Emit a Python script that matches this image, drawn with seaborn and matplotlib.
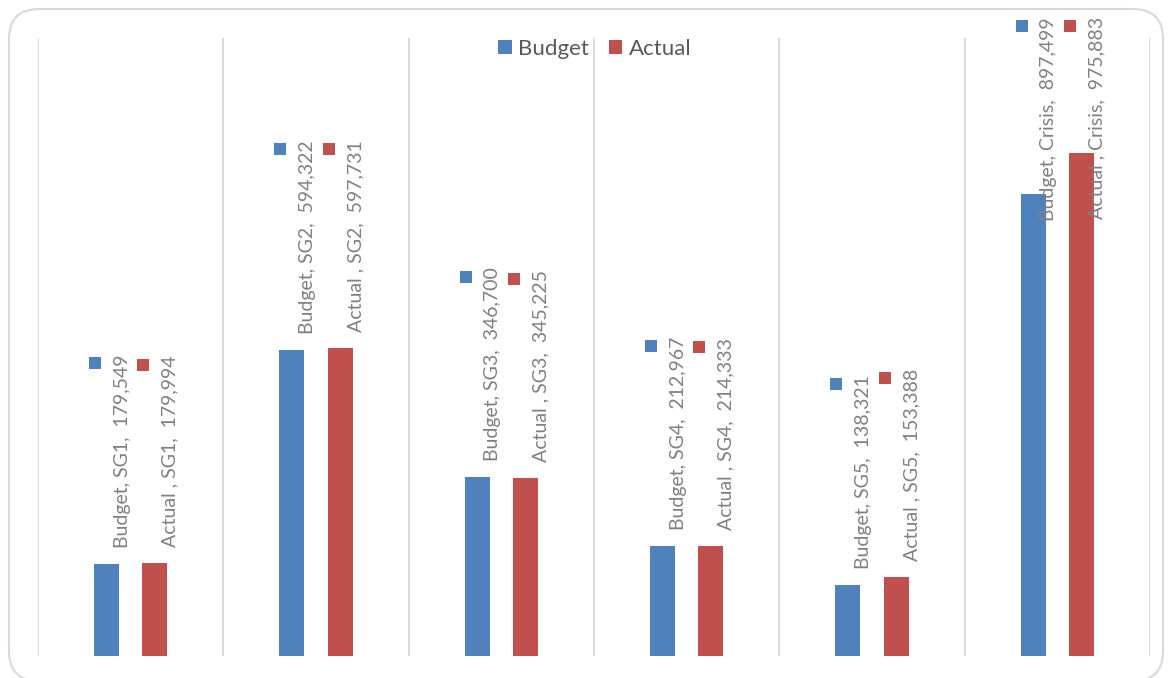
import matplotlib
matplotlib.use("Agg")
import matplotlib.pyplot as plt
import matplotlib.transforms as mtransforms
import seaborn as sns
import pandas as pd
from matplotlib.patches import Patch, Rectangle, FancyBboxPatch

categories = ["SG1", "SG2", "SG3", "SG4", "SG5", "Crisis"]
budget = [179549, 594322, 346700, 212967, 138321, 897499]
actual = [179994, 597731, 345225, 214333, 153388, 975883]
series_names = ["Budget", "Actual"]
label_prefix = ["Budget", "Actual "]
colors = ["#4F81BD", "#C0504D"]

W, H = 1169, 678
DPI = 100
sns.set_theme(style="white")
plt.rcParams['font.family'] = ['Lato', 'DejaVu Sans']

fig = plt.figure(figsize=(W / DPI, H / DPI), dpi=DPI)
fig.patch.set_facecolor("white")
ax = fig.add_axes([38 / W, 22 / H, 1112 / W, 618 / H])

df = pd.DataFrame({
    "category": categories * 2,
    "series": [series_names[0]] * len(budget) + [series_names[1]] * len(actual),
    "value": budget + actual,
})
sns.barplot(data=df, x="category", y="value", hue="series", hue_order=series_names,
            palette=colors, width=0.52, gap=0.48, legend=False, ax=ax,
            saturation=1, linewidth=0, errorbar=None)
ax.set_xlim(-0.5, len(categories) - 0.5)
ax.set_ylim(0, 1200000)
for k in range(len(categories) + 1):
    ax.axvline(k - 0.5, color="#d9d9d9", lw=1.4, zorder=0)
ax.set_axis_off()

PX = 72 / DPI
LABEL_FS = 14
anns = []
for si, (cont, vals) in enumerate(zip(ax.containers, [budget, actual])):
    for i, (bar, v) in enumerate(zip(cont, vals)):
        xc = bar.get_x() + bar.get_width() / 2
        txt = f"{label_prefix[si]}, {categories[i]},  {v:,}"
        a = ax.annotate(txt, xy=(xc, bar.get_height()), xytext=(15.5 * PX, 16 * PX),
                        textcoords="offset points", rotation=90, ha="center", va="bottom",
                        fontsize=LABEL_FS, color="#808080", annotation_clip=False)
        anns.append((a, xc, si))

fig.canvas.draw()
renderer = fig.canvas.get_renderer()
top_limit = H - 17
for a, xc, si in anns:
    bb = a.get_window_extent(renderer)
    if bb.y1 > top_limit:
        shift = bb.y1 - top_limit
        a.xyann = (a.xyann[0], a.xyann[1] - shift * PX)
fig.canvas.draw()
for a, xc, si in anns:
    bb = a.get_window_extent(renderer)
    bx = ax.transData.transform((xc, 0))[0]
    kx = bx - 11.5
    ky = bb.y1 - 9
    sz = 12
    fig.patches.append(Rectangle(((kx - sz / 2) / W, (ky - sz / 2) / H), sz / W, sz / H,
                                 transform=fig.transFigure, facecolor=colors[si],
                                 edgecolor="none", figure=fig))

handles = [Patch(facecolor=c, edgecolor="none") for c in colors]
fig.legend(handles, series_names, loc="center", bbox_to_anchor=(0.509, 0.928),
           ncol=2, frameon=False, fontsize=16, labelcolor="#595959",
           handlelength=0.6, handleheight=0.6, handletextpad=0.3, columnspacing=0.9)

frame = FancyBboxPatch((9, -3), 1163 - 9, 669 + 3, boxstyle="round,pad=0,rounding_size=30",
                       transform=mtransforms.IdentityTransform(), facecolor="none",
                       edgecolor="#d9d9d9", lw=1.5)
fig.patches.append(frame)

fig.savefig("out.png", dpi=DPI, facecolor="white")
